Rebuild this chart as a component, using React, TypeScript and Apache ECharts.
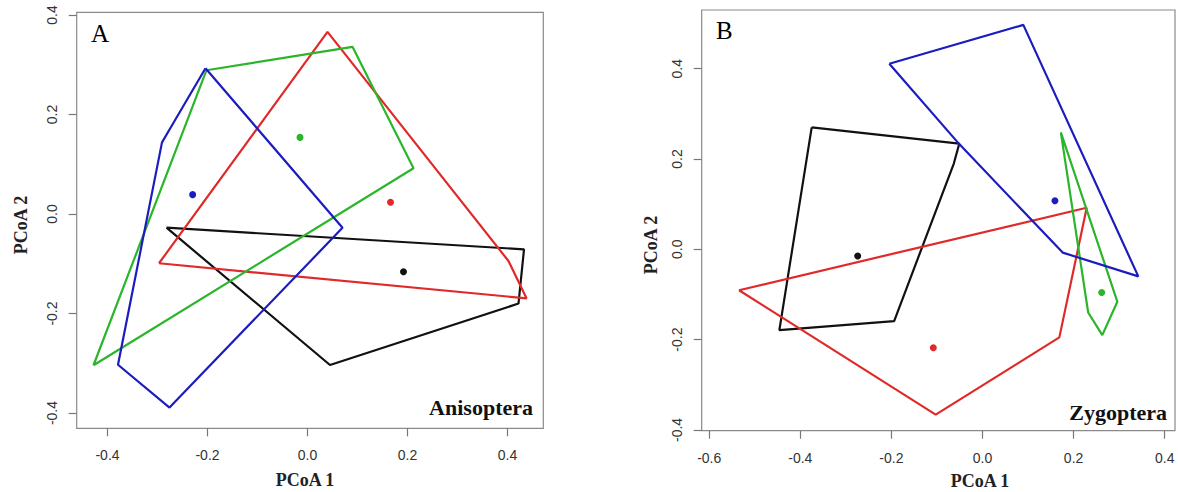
import React, { useEffect, useRef } from "react";
import * as echarts from "echarts";

// Panel A (Anisoptera) – convex hulls and centroids
const groups = ["black", "red", "green", "blue"];
const colors = ["#111111", "#e02a2a", "#2ab52a", "#1c1cbf"];

const A_black = [[-0.282, -0.0275], [0.433, -0.071], [0.422, -0.18], [0.045, -0.3035]];
const A_red = [[-0.297, -0.099], [0.04, 0.366], [0.402, -0.0945], [0.438, -0.1695]];
const A_green = [[-0.428, -0.304], [-0.202, 0.289], [0.09, 0.336], [0.212, 0.092]];
const A_blue = [[-0.204, 0.293], [-0.273, 0.175], [-0.291, 0.144], [-0.379, -0.303], [-0.276, -0.389], [0.07, -0.0278]];
const A_centroids = [[0.192, -0.116], [0.166, 0.0235], [-0.015, 0.154], [-0.2297, 0.0389]];

// Panel B (Zygoptera)
const B_black = [[-0.375, 0.27], [-0.051, 0.234], [-0.063, 0.19], [-0.194, -0.159], [-0.446, -0.179]];
const B_red = [[-0.5346, -0.0906], [0.2287, 0.092], [0.1687, -0.195], [-0.1028, -0.366]];
const B_green = [[0.172, 0.259], [0.296, -0.116], [0.263, -0.19], [0.232, -0.14]];
const B_blue = [[-0.2046, 0.411], [0.0896, 0.497], [0.342, -0.06], [0.176, -0.0073], [-0.051, 0.233]];
const B_centroids = [[-0.274, -0.0147], [-0.108, -0.218], [0.2617, -0.0957], [0.159, 0.1076]];

// Tick values
const A_xTicks = [-0.4, -0.2, 0.0, 0.2, 0.4];
const A_yTicks = [-0.4, -0.2, 0.0, 0.2, 0.4];
const B_xTicks = [-0.6, -0.4, -0.2, 0.0, 0.2, 0.4];
const B_yTicks = [-0.4, -0.2, 0.0, 0.2, 0.4];

const A_xRange = [-0.4616, 0.4716];
const A_yRange = [-0.4307, 0.4054];
const B_xRange = [-0.6165, 0.4226];
const B_yRange = [-0.4017, 0.53];

const close = (pts: number[][]) => [...pts, pts[0]];

const sans = "Liberation Sans, Arial, sans-serif";
const serif = "Liberation Serif, Times New Roman, serif";

function xAxisDef(idx: number, range: number[], ticks: number[]) {
  return {
    type: "value",
    gridIndex: idx,
    position: "bottom",
    min: range[0],
    max: range[1],
    splitLine: { show: false },
    axisLine: { show: false, onZero: false },
    axisTick: { show: true, inside: false, length: 8, customValues: ticks, lineStyle: { color: "#777", width: 1.2 } },
    axisLabel: {
      customValues: ticks,
      formatter: (v: number) => v.toFixed(1),
      margin: 20,
      fontSize: 14,
      color: "#333",
      fontFamily: sans,
    },
  };
}

function yAxisDef(idx: number, range: number[], ticks: number[]) {
  return {
    type: "value",
    gridIndex: idx,
    position: "left",
    min: range[0],
    max: range[1],
    splitLine: { show: false },
    axisLine: { show: false, onZero: false },
    axisTick: { show: true, inside: false, length: 8, customValues: ticks, lineStyle: { color: "#777", width: 1.2 } },
    axisLabel: {
      customValues: ticks,
      formatter: (v: number) => v.toFixed(1),
      rotate: 90,
      margin: 18,
      fontSize: 14,
      color: "#333",
      fontFamily: sans,
    },
  };
}

function hullSeries(idx: number, polys: number[][][]) {
  return polys.map((p, i) => ({
    type: "line",
    name: groups[i],
    xAxisIndex: idx,
    yAxisIndex: idx,
    data: close(p),
    showSymbol: false,
    symbol: "none",
    lineStyle: { color: colors[i], width: 2.2 },
    silent: true,
  }));
}

function centroidSeries(idx: number, pts: number[][]) {
  return pts.map((p, i) => ({
    type: "scatter",
    name: groups[i] + " centroid",
    xAxisIndex: idx,
    yAxisIndex: idx,
    data: [p],
    symbol: "circle",
    symbolSize: 7,
    itemStyle: { color: colors[i], opacity: 1 },
    silent: true,
  }));
}

export default function App() {
  const ref = useRef<HTMLDivElement>(null);
  useEffect(() => {
    if (!ref.current) return;
    const chart = echarts.init(ref.current, null, { renderer: "svg" });
    chart.setOption({
      animation: false,
      backgroundColor: "#ffffff",
      grid: [
        { left: 76.7, top: 12.3, width: 466.6, height: 416, show: true, borderColor: "#8a8a8a", borderWidth: 1.2, backgroundColor: "transparent" },
        { left: 701.7, top: 10, width: 473.3, height: 420.7, show: true, borderColor: "#8a8a8a", borderWidth: 1.2, backgroundColor: "transparent" },
      ],
      xAxis: [xAxisDef(0, A_xRange, A_xTicks), xAxisDef(1, B_xRange, B_xTicks)],
      yAxis: [yAxisDef(0, A_yRange, A_yTicks), yAxisDef(1, B_yRange, B_yTicks)],
      series: [
        ...hullSeries(0, [A_black, A_red, A_green, A_blue]),
        ...centroidSeries(0, A_centroids),
        ...hullSeries(1, [B_black, B_red, B_green, B_blue]),
        ...centroidSeries(1, B_centroids),
      ],
      graphic: [
        { type: "text", left: 91, top: 21, style: { text: "A", fontSize: 25, fontFamily: serif, fill: "#000" } },
        { type: "text", left: 716, top: 18, style: { text: "B", fontSize: 25, fontFamily: serif, fill: "#000" } },
        { type: "text", x: 533, y: 396, style: { text: "Anisoptera", fontSize: 22, fontWeight: "bold", fontFamily: serif, fill: "#111", align: "right", verticalAlign: "top" } },
        { type: "text", x: 1167, y: 401, style: { text: "Zygoptera", fontSize: 22, fontWeight: "bold", fontFamily: serif, fill: "#111", align: "right", verticalAlign: "top" } },
        { type: "text", x: 305, y: 480, style: { text: "PCoA 1", fontSize: 18, fontWeight: "bold", fontFamily: serif, fill: "#222", align: "center", verticalAlign: "middle" } },
        { type: "text", x: 980, y: 481, style: { text: "PCoA 1", fontSize: 18, fontWeight: "bold", fontFamily: serif, fill: "#222", align: "center", verticalAlign: "middle" } },
        { type: "text", x: 21, y: 225, rotation: Math.PI / 2, style: { text: "PCoA 2", fontSize: 18, fontWeight: "bold", fontFamily: serif, fill: "#222", align: "center", verticalAlign: "middle" } },
        { type: "text", x: 651, y: 245, rotation: Math.PI / 2, style: { text: "PCoA 2", fontSize: 18, fontWeight: "bold", fontFamily: serif, fill: "#222", align: "center", verticalAlign: "middle" } },
      ],
    });
    return () => chart.dispose();
  }, []);
  return <div ref={ref} style={{ position: "absolute", left: 0, top: 0, width: 1178, height: 492 }} />;
}
